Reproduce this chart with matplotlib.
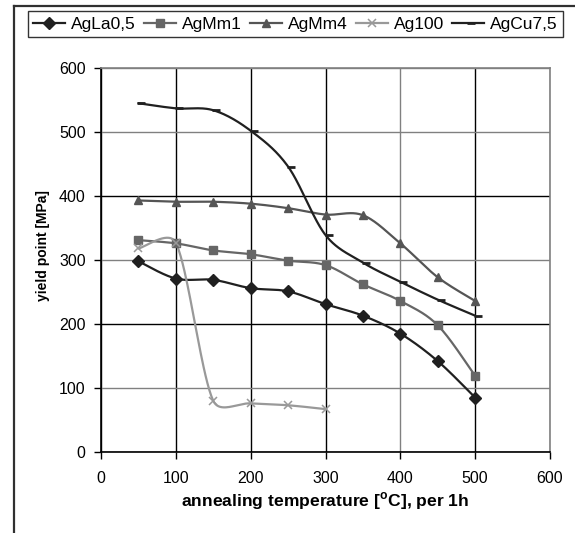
import numpy as np
import matplotlib
matplotlib.use("Agg")
import matplotlib.pyplot as plt
from matplotlib.lines import Line2D
from matplotlib.path import Path

plt.rcParams['font.family'] = ['Liberation Sans', 'DejaVu Sans']

# ---- data ----
temps = [50, 100, 150, 200, 250, 300, 350, 400, 450, 500]
temps_ag100 = [50, 100, 150, 200, 250, 300]
agla05 = [298, 271, 269, 256, 251, 231, 213, 185, 142, 85]
agmm1 = [331, 326, 315, 309, 299, 292, 262, 236, 198, 119]
agmm4 = [393, 391, 391, 388, 381, 371, 370, 326, 273, 236]
ag100 = [318, 327, 80, 76, 73, 67]
agcu75 = [545, 537, 534, 502, 446, 339, 296, 266, 238, 213]

series_names = ["AgLa0,5", "AgMm1", "AgMm4", "Ag100", "AgCu7,5"]

x_ticks = [0, 100, 200, 300, 400, 500, 600]
y_ticks = [0, 100, 200, 300, 400, 500, 600]

# pixel scale of the axes (for the smoothing control-point clamp)
PX_PER_X = 449 / 600
PX_PER_Y = 384 / 600


def smooth(xs, ys, n=40, clamp=0.4):
    """Excel-like smoothed line: Bezier segments through the data points."""
    P = np.column_stack([np.asarray(xs, float) * PX_PER_X,
                         np.asarray(ys, float) * PX_PER_Y])
    P = np.vstack([P[0], P, P[-1]])
    out = []
    t = np.linspace(0, 1, n)
    for i in range(1, len(P) - 2):
        p0, p1, p2, p3 = P[i - 1], P[i], P[i + 1], P[i + 2]
        seglen = np.hypot(*(p2 - p1))
        d1 = (p2 - p0) / 6.0
        d2 = (p3 - p1) / 6.0
        for d in (d1, d2):
            L = np.hypot(*d)
            if L > clamp * seglen and L > 0:
                d *= clamp * seglen / L
        c1 = p1 + d1
        c2 = p2 - d2
        seg = ((1 - t) ** 3)[:, None] * p1 + (3 * (1 - t) ** 2 * t)[:, None] * c1 \
            + (3 * (1 - t) * t ** 2)[:, None] * c2 + (t ** 3)[:, None] * p2
        out.append(seg if i == 1 else seg[1:])
    S = np.vstack(out)
    return S[:, 0] / PX_PER_X, S[:, 1] / PX_PER_Y


fig = plt.figure(figsize=(5.75, 5.33), dpi=100)
ax = fig.add_axes([101 / 575, 1 - 452 / 533, 449 / 575, 384 / 533])

dash_marker = Path([(-0.15, 0), (1, 0)], [Path.MOVETO, Path.LINETO])

specs = [
    (temps, agla05, dict(color='#202020', marker='D', ms=5.8)),
    (temps, agmm1, dict(color='#666666', marker='s', ms=5.3)),
    (temps, agmm4, dict(color='#555555', marker='^', ms=6.0)),
    (temps_ag100, ag100, dict(color='#999999', marker='x', ms=6.0, mew=1.1)),
    (temps, agcu75, dict(color='#202020', marker=dash_marker, ms=10, mew=2.0)),
]

handles = []
for (xs, ys, st), name in zip(specs, series_names):
    sx, sy = smooth(xs, ys)
    ax.plot(sx, sy, color=st['color'], lw=1.6, zorder=3, solid_capstyle='round')
    ax.plot(xs, ys, ls='none', marker=st['marker'], ms=st['ms'],
            color=st['color'], mec=st['color'], mfc=st['color'],
            mew=st.get('mew', 1.0), zorder=4)
    handles.append(Line2D([], [], color=st['color'], lw=1.6, marker=st['marker'],
                          ms=st['ms'], mec=st['color'], mfc=st['color'],
                          mew=st.get('mew', 1.0)))

ax.set_xlim(0, 600)
ax.set_ylim(0, 600)
ax.set_xticks(x_ticks)
ax.set_yticks(y_ticks)
ax.tick_params(axis='both', direction='out', length=5, width=1, color='black',
               labelsize=11.5)
ax.tick_params(axis='x', pad=9)
ax.tick_params(axis='y', pad=6)

ax.grid(True, lw=1.0, zorder=1)
xgrid_colors = ['black', 'black', 'black', 'black', '#808080', 'black', '#808080']
ygrid_colors = ['black', '#808080', 'black', '#808080', 'black', '#808080', '#808080']
for gl, c in zip(ax.get_xgridlines(), xgrid_colors):
    gl.set_color(c)
for gl, c in zip(ax.get_ygridlines(), ygrid_colors):
    gl.set_color(c)

for side in ['left', 'bottom']:
    ax.spines[side].set_color('black')
    ax.spines[side].set_linewidth(1.2)
for side in ['top', 'right']:
    ax.spines[side].set_color('#808080')
    ax.spines[side].set_linewidth(1.2)

ax.set_xlabel("annealing temperature [$^{\\mathregular{o}}$C], per 1h", fontsize=12.6,
              fontweight='bold')
ax.xaxis.set_label_coords(325 / 575, 1 - 501 / 533, transform=fig.transFigure)
ax.xaxis.label.set_verticalalignment('center')
ax.set_ylabel("yield point [MPa]", fontsize=10, fontweight='bold')
ax.yaxis.set_label_coords(43 / 575, 1 - 246 / 533, transform=fig.transFigure)
ax.yaxis.label.set_verticalalignment('center')

leg = fig.legend(handles, series_names, loc='center',
                 bbox_to_anchor=(295.5 / 575, 1 - 24 / 533), ncol=5,
                 fontsize=12.5, frameon=True, fancybox=False, handlelength=1.85,
                 handletextpad=0.35, columnspacing=0.45, borderpad=0.3,
                 borderaxespad=0)
leg.get_frame().set_edgecolor('black')
leg.get_frame().set_linewidth(1.0)

fig.add_artist(Line2D([14 / 575, 14 / 575], [0, 1 - 5.5 / 533], transform=fig.transFigure,
                      color='#303030', lw=1.6))
fig.add_artist(Line2D([14 / 575, 1], [1 - 5.5 / 533, 1 - 5.5 / 533], transform=fig.transFigure,
                      color='#303030', lw=1.6))

fig.savefig("out.png", dpi=100)
